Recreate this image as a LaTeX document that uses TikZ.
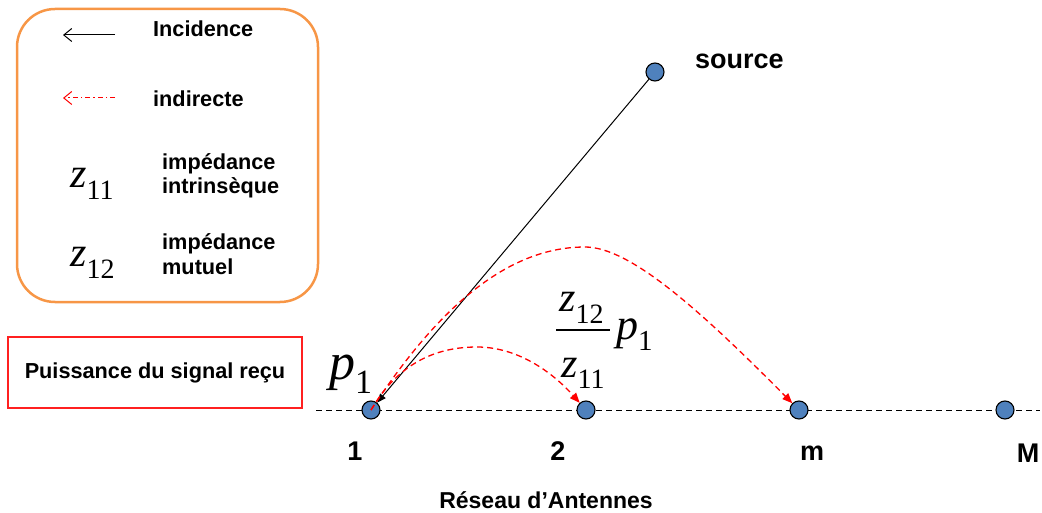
\documentclass[tikz,border=0pt]{standalone}
\usepackage{fontspec}
\setmainfont{Liberation Sans}
\newfontfamily\tnr{Liberation Serif}
\usetikzlibrary{arrows.meta}
\definecolor{antblue}{HTML}{4F81BD}
\definecolor{legorange}{HTML}{F79646}
\definecolor{boxred}{HTML}{FF2020}
\newcommand\mv[4]{{\tnr\fontsize{#1}{#1}\selectfont\itshape #3\upshape\raisebox{-0.27em}{\fontsize{#2}{#2}\selectfont #4}}}
\newcommand\bft[1]{\fontsize{#1}{#1}\selectfont\bfseries}
\begin{document}
\begin{tikzpicture}[x=1pt,y=-1pt,
  ant/.style={circle, draw=black, fill=antblue, minimum size=18pt, inner sep=0pt, line width=1.1pt},
  lbl/.style={font=\bft{27}, inner sep=0pt, anchor=base},
  legtxt/.style={font=\bft{21.7}, inner sep=0pt, anchor=base west},
  mth/.style={inner sep=0pt, anchor=base west},
  inc/.style={line width=1pt, -{Triangle[length=9pt,width=7pt]}},
  ind/.style={red, line width=1.3pt, dash pattern=on 6pt off 4pt, -{Triangle[length=10pt,width=8pt]}},
  legarr/.style={line width=1pt, -{Straight Barb[length=8pt,width=13pt]}},
  baseln/.style={line width=1pt, dash pattern=on 6pt off 4pt}
]
\useasboundingbox (0,0) rectangle (1042,513);

% legend
\node[draw=legorange, line width=2.5pt, rounded corners=38pt, minimum width=301pt, minimum height=293pt, inner sep=0pt] (legend) at (167.5,155.5) {};
\coordinate (l1a) at (115,35); \coordinate (l1b) at (63,35);
\coordinate (l2a) at (115,98); \coordinate (l2b) at (63,98);
\draw[legarr] (l1a) -- (l1b);
\draw[legarr, red, dash pattern=on 5pt off 3pt on 1.5pt off 3pt] (l2a) -- (l2b);
\node[legtxt] (tinc) at (153,37) {Incidence};
\node[legtxt] (tind) at (153,107) {indirecte};
\node[legtxt] (timp1) at (162,170) {impédance};
\node[legtxt] (tintr) at (162,194) {intrinsèque};
\node[legtxt] (timp2) at (162,250) {impédance};
\node[legtxt] (tmut) at (162,275) {mutuel};
\node[mth] (lz11) at (70,188) {\mv{42}{28}{z}{11}};
\node[mth] (lz12) at (70,267) {\mv{42}{28}{z}{12}};

% received power box
\node[draw=boxred, line width=1.5pt, minimum width=294pt, minimum height=71pt, inner sep=0pt, font=\bft{21.7}] (prs) at (155,372.5) {Puissance du signal reçu};

% antenna line
\coordinate (bl) at (316,410); \coordinate (br) at (1040,410);
\draw[baseln] (bl) -- (br);
\node[ant] (n1) at (371,410) {};
\node[ant] (n2) at (586,410) {};
\node[ant] (nm) at (799,410) {};
\node[ant] (nM) at (1005,410) {};
\node[ant] (src) at (655,72) {};

\node[lbl] (l1) at (355,460) {1};
\node[lbl] (l2) at (558,460) {2};
\node[lbl] (lm) at (812,460) {m};
\node[lbl] (lM) at (1028,462) {M};
\node[inner sep=0pt, anchor=base west, font=\bft{27}] (tsrc) at (695,69) {source};
\node[inner sep=0pt, anchor=base, font=\bft{23}] (tres) at (546,508) {Réseau d’Antennes};

% math labels
\node[mth] (p1) at (329,379) {\mv{52}{34}{p}{1}};
\node[mth] (fz12) at (559,312) {\mv{42}{28}{z}{12}};
\node[mth] (fz11) at (561,377) {\mv{42}{28}{z}{11}};
\node[mth] (fp1) at (616,339) {\mv{44}{29}{p}{1}};
\coordinate (barl) at (556,330); \coordinate (barr) at (610,330);
\draw[line width=1.2pt] (barl) -- (barr);

% connectors
\draw[inc] (src) -- (n1);
\coordinate (pk1) at (477,347);
\coordinate (pk2) at (585,247);
\draw[ind] (n1.center) .. controls (400,360) and (440,347) .. (pk1) .. controls (520,347) and (555,375) .. (n2);
\draw[ind] (n1.center) .. controls (430,320) and (500,247) .. (pk2) .. controls (630,247) and (700,310) .. (nm);
\end{tikzpicture}
\end{document}
